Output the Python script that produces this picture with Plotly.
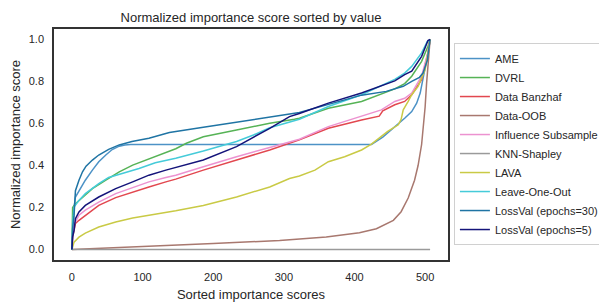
import plotly.graph_objects as go

# ---- data ----
ame_x = [0, 1, 3, 5, 10, 19, 29, 38, 48, 57, 67, 75, 83, 150, 250, 350, 424, 440, 452, 463, 471, 481, 488, 493, 497, 502, 505, 507]
ame_y = [0, 0.10, 0.20, 0.25, 0.28, 0.33, 0.378, 0.418, 0.45, 0.476, 0.492, 0.498, 0.5, 0.5, 0.5, 0.5, 0.5, 0.535, 0.569, 0.60, 0.625, 0.657, 0.697, 0.745, 0.809, 0.888, 0.952, 1.0]

dvrl_x = [0, 1, 5, 15, 29, 48, 67, 86, 104, 123, 147, 162, 186, 233, 280, 315, 322, 363, 410, 457, 471, 481, 495, 504, 507]
dvrl_y = [0, 0.2, 0.218, 0.25, 0.29, 0.33, 0.37, 0.402, 0.426, 0.45, 0.48, 0.506, 0.537, 0.569, 0.601, 0.62, 0.625, 0.673, 0.705, 0.765, 0.79, 0.825, 0.896, 0.968, 1.0]

banz_x = [0, 1, 3, 5, 10, 19, 29, 38, 62, 86, 109, 133, 147, 186, 233, 280, 322, 363, 410, 435, 440, 457, 471, 481, 495, 504, 507]
banz_y = [0, 0.06, 0.09, 0.124, 0.139, 0.163, 0.187, 0.21, 0.247, 0.274, 0.298, 0.322, 0.335, 0.378, 0.426, 0.474, 0.522, 0.577, 0.617, 0.635, 0.66, 0.689, 0.705, 0.737, 0.809, 0.936, 1.0]

oob_x = [0, 50, 100, 150, 200, 266, 294, 360, 407, 431, 455, 466, 476, 485, 490, 495, 497, 500, 502, 504, 506, 507]
oob_y = [0, 0.008, 0.015, 0.021, 0.028, 0.038, 0.043, 0.059, 0.08, 0.099, 0.139, 0.18, 0.245, 0.33, 0.40, 0.50, 0.56, 0.68, 0.79, 0.88, 0.95, 1.0]

infl_x = [0, 1, 3, 10, 19, 38, 62, 86, 109, 133, 147, 186, 233, 280, 322, 363, 410, 438, 457, 471, 481, 495, 504, 507]
infl_y = [0, 0.08, 0.12, 0.163, 0.187, 0.226, 0.266, 0.295, 0.322, 0.343, 0.354, 0.394, 0.442, 0.486, 0.525, 0.585, 0.633, 0.665, 0.705, 0.72, 0.745, 0.825, 0.94, 1.0]

knn_x = [0, 507]
knn_y = [0, 0]

lava_x = [0, 3, 10, 19, 38, 62, 86, 109, 133, 147, 186, 233, 280, 308, 322, 344, 363, 386, 410, 424, 447, 457, 462, 466, 469, 476, 481, 490, 500, 504, 507]
lava_y = [0, 0.035, 0.059, 0.078, 0.107, 0.131, 0.15, 0.163, 0.174, 0.184, 0.21, 0.25, 0.298, 0.338, 0.35, 0.378, 0.418, 0.442, 0.474, 0.502, 0.562, 0.585, 0.594, 0.62, 0.665, 0.705, 0.737, 0.777, 0.857, 0.936, 1.0]

loo_x = [0, 1, 3, 10, 19, 38, 52, 71, 95, 118, 147, 186, 233, 257, 280, 322, 363, 410, 457, 471, 481, 495, 503, 507]
loo_y = [0, 0.12, 0.202, 0.234, 0.266, 0.314, 0.343, 0.362, 0.386, 0.413, 0.435, 0.469, 0.514, 0.545, 0.58, 0.62, 0.681, 0.737, 0.81, 0.84, 0.872, 0.936, 0.99, 1.0]

lv30_x = [0, 1, 3, 5, 10, 15, 20, 29, 38, 52, 67, 85, 109, 138, 186, 233, 280, 322, 362, 410, 445, 457, 469, 481, 492, 497, 503, 507]
lv30_y = [0, 0.1, 0.16, 0.28, 0.33, 0.37, 0.397, 0.426, 0.45, 0.477, 0.498, 0.514, 0.53, 0.557, 0.582, 0.606, 0.633, 0.652, 0.69, 0.735, 0.753, 0.765, 0.777, 0.801, 0.82, 0.84, 0.9, 1.0]

lv5_x = [0, 1, 3, 5, 10, 19, 38, 62, 86, 109, 133, 147, 186, 233, 280, 308, 322, 363, 410, 457, 471, 481, 495, 504, 507]
lv5_y = [0, 0.06, 0.09, 0.147, 0.179, 0.21, 0.25, 0.29, 0.322, 0.354, 0.378, 0.39, 0.426, 0.49, 0.577, 0.633, 0.648, 0.697, 0.745, 0.803, 0.833, 0.849, 0.92, 0.995, 1.0]

names = ["AME", "DVRL", "Data Banzhaf", "Data-OOB", "Influence Subsample",
         "KNN-Shapley", "LAVA", "Leave-One-Out", "LossVal (epochs=30)", "LossVal (epochs=5)"]
xs = [ame_x, dvrl_x, banz_x, oob_x, infl_x, knn_x, lava_x, loo_x, lv30_x, lv5_x]
ys = [ame_y, dvrl_y, banz_y, oob_y, infl_y, knn_y, lava_y, loo_y, lv30_y, lv5_y]
colors = ["#4c92c6", "#56b356", "#e2474f", "#a8786f", "#ec92d0",
          "#9a9a9a", "#c9ca45", "#45cbd9", "#1f74a4", "#14147a"]

x_ticks = [0, 100, 200, 300, 400, 500]
y_ticks = [0.0, 0.2, 0.4, 0.6, 0.8, 1.0]

fig = go.Figure()
for n, x, y, c in zip(names, xs, ys, colors):
    fig.add_trace(go.Scatter(x=x, y=y, mode="lines", name=n,
                             line=dict(color=c, width=1.5)))

font_family = "Liberation Sans, Arial, sans-serif"
txt = "#262626"

# the page body adds an 8px offset; the figure is sized/placed to compensate
W, H = 599, 294

fig.update_layout(
    template="none",
    width=W, height=H,
    margin=dict(l=46, r=159, t=21, b=42, pad=0, autoexpand=False),
    paper_bgcolor="white", plot_bgcolor="white",
    font=dict(family=font_family, size=11, color=txt),
    title=dict(text="Normalized importance score sorted by value",
               x=0.5, xref="paper", xanchor="center",
               y=1 - 9 / H, yref="container", yanchor="middle",
               font=dict(size=13, color=txt)),
    showlegend=True,
    legend=dict(x=1.015, y=0.502, xanchor="left", yanchor="middle",
                bgcolor="white", bordercolor="#d0d0d0", borderwidth=1,
                font=dict(size=11, color=txt), tracegroupgap=0),
    xaxis=dict(range=[-25.35, 532.35], tickvals=x_ticks,
               ticktext=[str(v) for v in x_ticks],
               showgrid=False, zeroline=False, automargin=False,
               showline=True, mirror=True, linecolor="#333333", linewidth=1.5,
               ticks="outside", ticklen=6, tickcolor="rgba(0,0,0,0)",
               tickfont=dict(size=11, color=txt),
               title=dict(text="Sorted importance scores", font=dict(size=13, color=txt), standoff=9)),
    yaxis=dict(range=[-0.05, 1.05], tickvals=y_ticks,
               ticktext=["%.1f" % v for v in y_ticks],
               showgrid=False, zeroline=False, automargin=False,
               showline=True, mirror=True, linecolor="#333333", linewidth=1.5,
               ticks="outside", ticklen=6, tickcolor="rgba(0,0,0,0)",
               tickfont=dict(size=11, color=txt),
               title=dict(text="Normalized importance score", font=dict(size=13, color=txt), standoff=7)),
)

fig.write_html("out.html")
